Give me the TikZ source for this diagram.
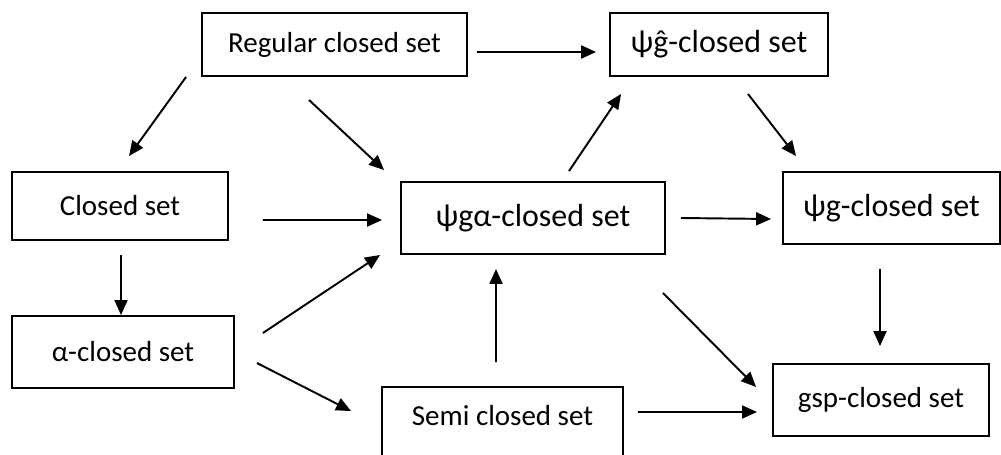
\documentclass[tikz,border=0pt]{standalone}
\usepackage{fontspec}
\setmainfont{Carlito}
\usepackage{tikz}
\usetikzlibrary{arrows.meta, positioning}
\tikzset{
    conn/.style ={-{Triangle[length=0.3cm,width=0.26cm]}, line width=1.1pt}, % every connector gets a filled triangle tip
    setbox/.style ={draw, rectangle, inner sep=0pt, line width=1.1pt, font=\fontsize{16.5}{20}\selectfont}, % plain box of the diagram
    psibox/.style ={setbox, font=\fontsize{18.2}{22}\selectfont} % the psi boxes use a slightly larger type
}
\begin{document}
\begin{tikzpicture}[x=0.02cm, y=-0.02cm, line width=1.1pt]
\useasboundingbox (0,0) rectangle (1001,454);
\clip (0,0) rectangle (1001,454);

\node[setbox, minimum width=5.3cm, minimum height=1.26cm] (reg) at (334.5,44.5) {Regular closed set};
\node[psibox, minimum width=4.36cm, minimum height=1.26cm] (hatg) at (719,44.5) {ψĝ-closed set};
\node[setbox, minimum width=4.32cm, minimum height=1.36cm] (closed) at (120,206) {Closed set};
\node[setbox, minimum width=4.44cm, minimum height=1.44cm] (alpha) at (123,352) {α-closed set};
\node[psibox, minimum width=5.28cm, minimum height=1.44cm] (psiga) at (533,218) {ψgα-closed set\hspace{0.28cm}};
\node[psibox, minimum width=4.34cm, minimum height=1.44cm] (psig) at (891.5,208) {ψg-closed set};
\node[setbox, minimum width=4.82cm, minimum height=1.44cm, text depth=0.3cm] (semi) at (502.5,423) {Semi closed set};
\node[setbox, minimum width=4.32cm, minimum height=1.44cm] (gsp) at (881,400) {gsp-closed set};

\draw[conn] ([xshift=0.18cm,yshift=-0.15cm]reg.east) -- ([xshift=-0.26cm,yshift=-0.15cm]hatg.west);
\draw[conn] ([xshift=-0.3cm]reg.south west) -- ([xshift=0.18cm,yshift=0.3cm]closed.north);
\draw[conn] ([xshift=-0.51cm,yshift=-0.46cm]reg.south) -- ([xshift=-0.32cm,yshift=0.22cm]psiga.north west);
\draw[conn] ([xshift=0.68cm,yshift=-0.28cm]closed.east) -- ([xshift=-0.36cm,yshift=-0.04cm]psiga.west);
\draw[conn] ([xshift=0.02cm,yshift=-0.28cm]closed.south) -- ([xshift=0.02cm]closed.south |- alpha.north);
\draw[conn] ([xshift=0.56cm,yshift=0.38cm]alpha.east) -- ([xshift=-0.4cm]psiga.south west);
\draw[conn] ([xshift=0.44cm,yshift=-0.22cm]alpha.east) -- ([xshift=-0.6cm,yshift=-0.5cm]semi.north west);
\draw[conn] ([xshift=-0.13cm,yshift=0.48cm]semi.north) -- ([xshift=-0.74cm,yshift=-0.28cm]psiga.south);
\draw[conn] ([xshift=0.72cm,yshift=0.2cm]psiga.north) -- ([xshift=0.24cm,yshift=-0.34cm]hatg.south west);
\draw[conn] ([xshift=0.58cm,yshift=-0.34cm]hatg.south) -- ([xshift=0.28cm,yshift=0.3cm]psig.north west);
\draw[conn] ([xshift=0.3cm]psiga.east) -- ([xshift=-0.22cm,yshift=-0.22cm]psig.west);
\draw[conn] ([xshift=-0.06cm,yshift=-0.76cm]psiga.south east) -- ([xshift=-0.32cm,yshift=0.26cm]gsp.west);
\draw[conn] ([xshift=-0.23cm,yshift=-0.48cm]psig.south) -- ([xshift=-0.02cm,yshift=0.34cm]gsp.north);
\draw[conn] ([xshift=0.28cm,yshift=0.22cm]semi.east) -- ([xshift=-0.3cm,yshift=-0.24cm]gsp.west);
\end{tikzpicture}
\end{document}
